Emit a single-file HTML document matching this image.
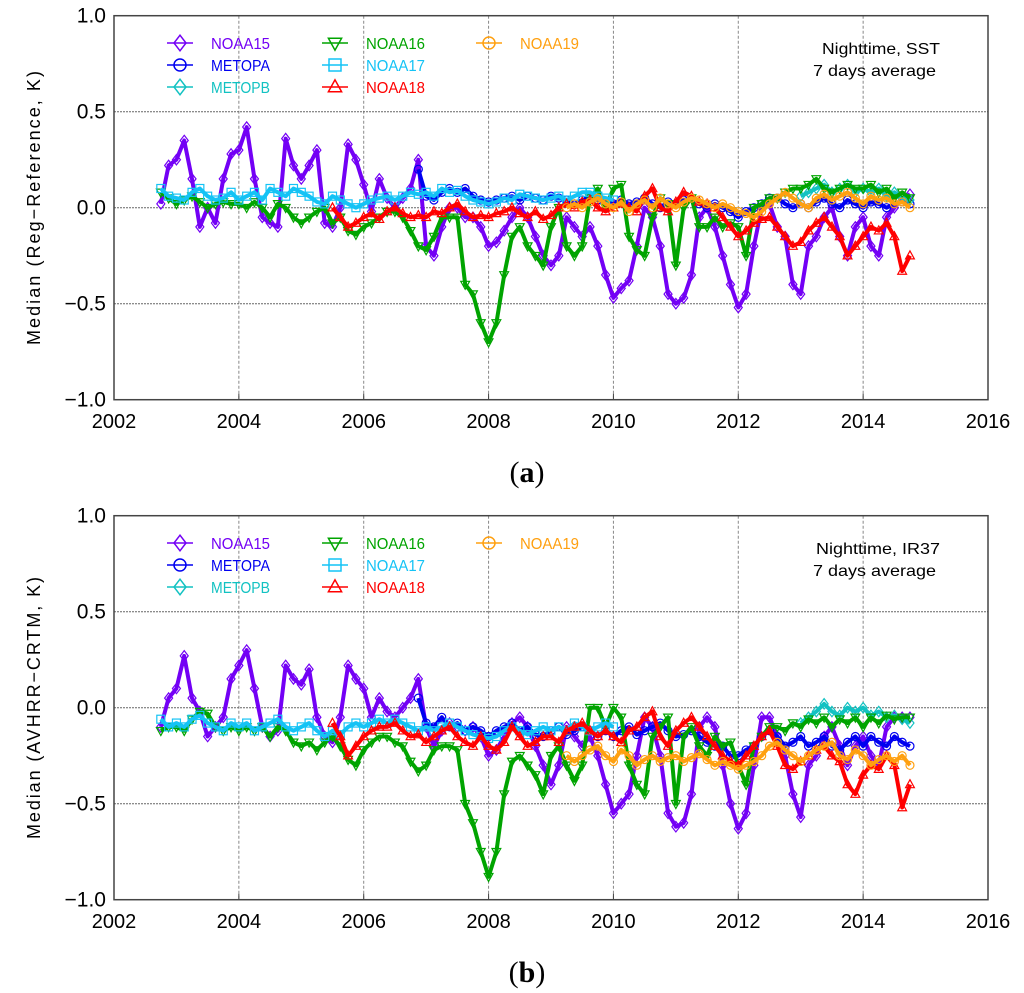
<!DOCTYPE html>
<html><head><meta charset="utf-8"><style>
html,body{margin:0;padding:0;background:#fff;}
svg{display:block;font-family:"Liberation Sans",sans-serif;}
</style></head><body>
<svg id="fig" width="1024" height="993" viewBox="0 0 1024 993" xmlns="http://www.w3.org/2000/svg"></svg>
<script>
// ---- shared axis data ----
const xTicks = [2002, 2004, 2006, 2008, 2010, 2012, 2014, 2016];
const yTicks = [1.0, 0.5, 0.0, -0.5, -1.0];
const yTickLabels = ["1.0", "0.5", "0.0", "\u22120.5", "\u22121.0"];
const seriesNames = ["NOAA15","METOPA","METOPB","NOAA16","NOAA17","NOAA18","NOAA19"];

// ---- panel (a) data: 8 samples per year, start years ----
const aStart = {NOAA15:2002.75, NOAA16:2002.75, NOAA17:2002.75, METOPA:2006.875, METOPB:2013.0, NOAA18:2005.5, NOAA19:2009.25};
const aNOAA15 = [0.02,0.22,
 0.25,0.35,0.15,-0.1,0.0,-0.08,0.15,0.28,
 0.3,0.42,0.15,-0.05,-0.08,-0.1,0.36,0.22,
 0.15,0.22,0.3,-0.08,-0.1,0.0,0.33,0.25,
 0.12,-0.02,0.15,0.05,0.0,0.05,0.1,0.25,
 -0.2,-0.25,-0.1,0.0,0.0,-0.05,-0.05,-0.1,
 -0.2,-0.18,-0.12,-0.05,0.0,-0.05,-0.15,-0.25,
 -0.3,-0.25,-0.05,-0.1,-0.15,-0.1,-0.2,-0.35,
 -0.47,-0.42,-0.38,-0.2,0.0,-0.05,-0.2,-0.45,
 -0.5,-0.47,-0.35,-0.05,0.0,-0.1,-0.25,-0.4,
 -0.52,-0.45,-0.2,0.0,0.02,-0.1,-0.15,-0.4,
 -0.45,-0.2,-0.15,-0.05,0.0,-0.15,-0.25,-0.1,
 -0.05,-0.2,-0.25,-0.05,0.0,0.05,0.07];
const aNOAA16 = [0.08,0.05,
 0.02,0.04,0.06,0.03,0.0,0.02,0.03,0.02,
 0.02,0.0,0.03,0.0,-0.05,0.02,0.0,-0.05,
 -0.08,-0.05,-0.02,0.0,-0.08,-0.05,-0.12,-0.14,
 -0.1,-0.08,-0.05,-0.02,-0.02,-0.05,-0.12,-0.2,
 -0.22,-0.15,-0.05,-0.05,-0.05,-0.4,-0.45,-0.6,
 -0.7,-0.6,-0.35,-0.15,-0.1,-0.2,-0.25,-0.3,
 -0.1,0.0,-0.2,-0.25,-0.2,0.05,0.1,0.0,
 0.1,0.12,-0.15,-0.22,-0.25,-0.05,0.05,0.02,
 -0.3,0.0,0.05,-0.1,-0.1,-0.05,-0.1,-0.08,
 -0.1,-0.25,0.0,0.02,0.05,0.05,0.08,0.1,
 0.1,0.12,0.15,0.1,0.08,0.1,0.12,0.1,
 0.1,0.12,0.08,0.1,0.05,0.08,0.05];
const aNOAA17 = [0.1,0.06,
 0.05,0.04,0.08,0.1,0.06,0.04,0.05,0.08,
 0.04,0.06,0.08,0.04,0.1,0.08,0.06,0.1,
 0.08,0.06,0.03,0.02,0.06,0.04,0.02,0.0,
 0.02,0.04,0.05,0.06,0.04,0.06,0.08,0.07,
 0.08,0.06,0.1,0.08,0.09,0.06,0.04,0.03,
 0.02,0.03,0.05,0.04,0.07,0.06,0.05,0.04,
 0.05,0.06,0.04,0.06,0.08,0.08,0.06,0.05,
 0.04];
const aMETOPA = [0.2,
 0.06,0.04,0.08,0.1,0.08,0.1,0.06,0.04,
 0.03,0.04,0.05,0.06,0.04,0.06,0.05,0.04,
 0.06,0.05,0.04,0.02,0.04,0.05,0.04,0.03,
 0.02,0.04,0.02,0.03,0.05,0.02,0.0,0.03,
 0.02,0.04,0.05,0.02,0.0,0.02,0.0,-0.02,
 -0.05,-0.02,0.0,0.02,0.05,0.05,0.02,0.0,
 0.02,0.0,0.03,0.05,0.02,0.0,0.04,0.02,
 0.0,0.03,0.02,0.0,0.02,0.03,0.02];
const aMETOPB = [0.06,0.08,0.1,0.12,0.08,0.1,0.12,0.08, 0.1,0.08,0.1,0.06,0.08,0.05,0.04];
const aNOAA18 = [0.0,-0.05,-0.1,-0.08,
 -0.05,-0.03,-0.06,-0.02,0.0,-0.03,-0.05,-0.04,
 -0.05,-0.02,-0.03,0.0,0.02,-0.02,-0.05,-0.04,
 -0.05,-0.03,-0.02,0.0,-0.03,-0.05,-0.02,-0.06,
 -0.04,0.0,0.02,0.0,0.03,0.04,0.0,-0.02,
 0.0,0.02,0.0,-0.02,0.06,0.1,0.0,-0.02,
 0.03,0.08,0.06,0.03,0.02,0.0,-0.05,-0.1,
 -0.15,-0.12,-0.08,-0.06,-0.05,-0.1,-0.15,-0.2,
 -0.18,-0.12,-0.08,-0.05,-0.1,-0.15,-0.25,-0.2,
 -0.15,-0.1,-0.12,-0.08,-0.15,-0.33,-0.25];
const aNOAA19 = [0.0,0.02,0.0,0.03,0.05,0.02,
 0.0,0.03,-0.02,0.02,0.04,0.0,0.05,0.02,
 0.0,0.03,0.05,0.04,0.02,0.0,0.02,0.0,
 -0.02,-0.03,-0.05,-0.02,0.02,0.05,0.08,0.05,
 0.02,0.0,0.05,0.07,0.04,0.06,0.08,0.05,
 0.02,0.06,0.04,0.05,0.02,0.03,0.0];

// ---- panel (b) data ----
const bStart = {NOAA15:2002.75, NOAA16:2002.75, NOAA17:2002.75, METOPA:2006.875, METOPB:2013.0, NOAA18:2005.5, NOAA19:2009.25};
const bNOAA15 = [-0.1,0.05,
 0.1,0.27,0.05,-0.02,-0.15,-0.1,-0.05,0.15,
 0.22,0.3,0.1,-0.1,-0.15,-0.12,0.22,0.15,
 0.12,0.2,-0.05,-0.15,-0.18,-0.05,0.22,0.15,
 0.1,-0.05,0.05,-0.02,-0.05,0.0,0.05,0.15,
 -0.1,-0.2,-0.12,-0.08,-0.1,-0.12,-0.1,-0.15,
 -0.25,-0.22,-0.15,-0.08,-0.05,-0.1,-0.2,-0.3,
 -0.4,-0.3,-0.1,-0.15,-0.2,-0.15,-0.25,-0.4,
 -0.55,-0.5,-0.45,-0.25,-0.05,-0.1,-0.25,-0.55,
 -0.62,-0.6,-0.45,-0.1,-0.05,-0.1,-0.3,-0.5,
 -0.63,-0.55,-0.3,-0.05,-0.05,-0.15,-0.25,-0.45,
 -0.57,-0.3,-0.25,-0.15,-0.1,-0.2,-0.3,-0.2,
 -0.15,-0.25,-0.3,-0.1,-0.05,-0.05,-0.05];
const bNOAA16 = [-0.12,-0.1,
 -0.1,-0.12,-0.06,-0.02,-0.03,-0.1,-0.12,-0.1,
 -0.12,-0.1,-0.12,-0.1,-0.15,-0.1,-0.12,-0.18,
 -0.2,-0.18,-0.22,-0.18,-0.15,-0.2,-0.27,-0.3,
 -0.22,-0.18,-0.15,-0.15,-0.18,-0.2,-0.28,-0.33,
 -0.3,-0.22,-0.2,-0.2,-0.22,-0.5,-0.6,-0.75,
 -0.88,-0.75,-0.45,-0.28,-0.25,-0.3,-0.35,-0.45,
 -0.25,-0.2,-0.3,-0.38,-0.3,0.0,0.0,-0.1,
 0.0,-0.05,-0.3,-0.4,-0.45,-0.15,-0.1,-0.05,
 -0.5,-0.15,-0.1,-0.2,-0.25,-0.15,-0.2,-0.18,
 -0.3,-0.4,-0.2,-0.15,-0.1,-0.1,-0.12,-0.08,
 -0.1,-0.06,-0.08,-0.05,-0.1,-0.06,-0.08,-0.05,
 -0.1,-0.05,-0.08,-0.04,-0.06,-0.05,-0.05];
const bNOAA17 = [-0.06,-0.1,
 -0.08,-0.1,-0.06,-0.04,-0.08,-0.1,-0.12,-0.08,
 -0.1,-0.08,-0.12,-0.1,-0.08,-0.06,-0.1,-0.12,
 -0.1,-0.08,-0.12,-0.15,-0.12,-0.14,-0.1,-0.08,
 -0.1,-0.08,-0.06,-0.08,-0.06,-0.08,-0.1,-0.12,
 -0.1,-0.12,-0.1,-0.08,-0.1,-0.12,-0.14,-0.15,
 -0.16,-0.15,-0.12,-0.1,-0.12,-0.14,-0.12,-0.1,
 -0.12,-0.1,-0.12,-0.08,-0.1,-0.12,-0.1,-0.08,
 -0.1];
const bMETOPA = [0.05,
 -0.08,-0.1,-0.05,-0.1,-0.08,-0.12,-0.1,-0.12,
 -0.15,-0.12,-0.1,-0.08,-0.12,-0.1,-0.14,-0.15,
 -0.12,-0.1,-0.14,-0.12,-0.1,-0.12,-0.15,-0.12,
 -0.15,-0.12,-0.1,-0.14,-0.12,-0.1,-0.08,-0.12,
 -0.15,-0.14,-0.12,-0.15,-0.18,-0.2,-0.2,-0.25,
 -0.25,-0.22,-0.2,-0.15,-0.12,-0.15,-0.2,-0.18,
 -0.15,-0.2,-0.18,-0.15,-0.2,-0.22,-0.18,-0.15,
 -0.2,-0.15,-0.18,-0.2,-0.15,-0.18,-0.2];
const bMETOPB = [-0.08,-0.05,-0.02,0.02,-0.02,-0.04,0.0,-0.02, 0.0,-0.04,-0.02,-0.05,-0.04,-0.06,-0.08];
const bNOAA18 = [-0.08,-0.15,-0.25,-0.2,
 -0.15,-0.12,-0.1,-0.1,-0.08,-0.12,-0.15,-0.14,
 -0.18,-0.15,-0.12,-0.1,-0.15,-0.18,-0.2,-0.15,
 -0.2,-0.22,-0.18,-0.1,-0.15,-0.2,-0.18,-0.15,
 -0.15,-0.18,-0.12,-0.1,-0.08,-0.12,-0.15,-0.12,
 -0.15,-0.18,-0.12,-0.1,-0.05,-0.02,-0.15,-0.2,
 -0.12,-0.08,-0.05,-0.1,-0.15,-0.2,-0.25,-0.28,
 -0.3,-0.25,-0.2,-0.15,-0.12,-0.2,-0.3,-0.32,
 -0.28,-0.25,-0.22,-0.2,-0.25,-0.28,-0.4,-0.45,
 -0.35,-0.3,-0.32,-0.25,-0.3,-0.52,-0.4];
const bNOAA19 = [-0.25,-0.28,-0.25,-0.22,-0.2,-0.25,
 -0.28,-0.22,-0.25,-0.3,-0.27,-0.25,-0.28,-0.26,
 -0.25,-0.28,-0.26,-0.24,-0.27,-0.3,-0.28,-0.3,
 -0.32,-0.3,-0.28,-0.25,-0.2,-0.18,-0.22,-0.25,
 -0.28,-0.25,-0.22,-0.2,-0.18,-0.25,-0.27,-0.22,
 -0.25,-0.3,-0.27,-0.25,-0.28,-0.25,-0.3];

const colors = {NOAA15:"#7300f5", METOPA:"#0000f0", METOPB:"#12c2c2", NOAA16:"#00a400", NOAA17:"#14c3f5", NOAA18:"#ff0000", NOAA19:"#ffa010"};
const markers = {NOAA15:"diamond", METOPA:"circle", METOPB:"diamond", NOAA16:"tridown", NOAA17:"square", NOAA18:"triup", NOAA19:"circle"};

const NS = "http://www.w3.org/2000/svg";
const svg = document.getElementById("fig");
function mk(tag, attrs, parent) {
  const e = document.createElementNS(NS, tag);
  for (const k in attrs) e.setAttribute(k, attrs[k]);
  (parent || svg).appendChild(e);
  return e;
}
const X0 = 114, X1 = 988;
function xScale(yr) { return X0 + (yr - 2002) / 14 * (X1 - X0); }
function makeY(off) { return v => off + 207.7 - v * 192; }

function markerShape(kind, cx, cy, s, col, g) {
  let el;
  if (kind === "diamond") el = mk("polygon", {points:`${cx},${cy-s*1.3} ${cx+s},${cy} ${cx},${cy+s*1.3} ${cx-s},${cy}`}, g);
  else if (kind === "circle") el = mk("circle", {cx:cx, cy:cy, r:s}, g);
  else if (kind === "square") el = mk("rect", {x:cx-s, y:cy-s, width:2*s, height:2*s}, g);
  else if (kind === "triup") el = mk("polygon", {points:`${cx},${cy-s*1.2} ${cx+s*1.1},${cy+s*0.8} ${cx-s*1.1},${cy+s*0.8}`}, g);
  else el = mk("polygon", {points:`${cx},${cy+s*1.2} ${cx+s*1.1},${cy-s*0.8} ${cx-s*1.1},${cy-s*0.8}`}, g);
  el.setAttribute("fill", "none");
  el.setAttribute("stroke", col);
  el.setAttribute("stroke-width", "1.2");
  return el;
}

function drawPanel(off, tag, data, starts, yTitle, note) {
  const yS = makeY(off);
  const pg = mk("g", {});
  
  
  xTicks.slice(1, -1).forEach(t => {
    const l = mk("line", {x1:xScale(t), x2:xScale(t), y1:yS(1), y2:yS(-1), stroke:"#888", "stroke-width":1, "stroke-dasharray":"3,2"}, pg);
    
    
  });
  [0.5, 0, -0.5].forEach(t => {
    const l = mk("line", {x1:X0, x2:X1, y1:yS(t), y2:yS(t), stroke:"#666", "stroke-width":1, "stroke-dasharray":"2,1"}, pg);
    
    
  });
  const order = ["NOAA15","METOPA","METOPB","NOAA16","NOAA17","NOAA18","NOAA19"];
  order.forEach(name => {
    const vals = data[name];
    const st = starts[name];
    const col = colors[name];
    const sg = mk("g", {}, pg);
    
    
    const pts = vals.map((v, i) => [xScale(st + i * 0.125), yS(v)]);
    const line = mk("polyline", {points: pts.map(p => p[0].toFixed(1) + "," + p[1].toFixed(1)).join(" "), fill:"none", stroke:col, "stroke-width":4, "stroke-linejoin":"round"}, sg);
    
    
    pts.forEach(p => {
      const m = markerShape(markers[name], p[0], p[1], 4, col, sg);
      
      
    });
  });
  const box = mk("rect", {x:X0, y:yS(1), width:X1 - X0, height:yS(-1) - yS(1), fill:"none", stroke:"#444", "stroke-width":1.5}, pg);
  
  
  xTicks.forEach(t => {
    const tl = mk("text", {x:xScale(t), y:off + 428, "text-anchor":"middle", "font-size":20, fill:"#000"}, pg);
    tl.textContent = t;
    
    
    mk("line", {x1:xScale(t), x2:xScale(t), y1:yS(-1), y2:yS(-1) - 6, stroke:"#444"}, pg);
  });
  yTicks.forEach((t, i) => {
    const tl = mk("text", {x:106, y:yS(t) + 7, "text-anchor":"end", "font-size":21, fill:"#000"}, pg);
    tl.textContent = yTickLabels[i];
    
    
  });
  const yt = mk("text", {transform:`translate(40,${off + 208}) rotate(-90)`, "text-anchor":"middle", "font-size":18, fill:"#000", textLength:(tag === "a" ? 274 : 262), lengthAdjust:"spacing"}, pg);
  yt.textContent = yTitle;
  
  
  const lg = mk("g", {}, pg);
  
  
  const legendPos = {NOAA15:[180,43], METOPA:[180,65], METOPB:[180,87], NOAA16:[335,43], NOAA17:[335,65], NOAA18:[335,87], NOAA19:[489,43]};
  seriesNames.forEach(name => {
    const [cx, cy0] = legendPos[name];
    const cy = cy0 + off;
    const eg = mk("g", {}, lg);
    
    
    mk("line", {x1:cx - 13, x2:cx + 13, y1:cy, y2:cy, stroke:colors[name], "stroke-width":1.5}, eg);
    markerShape(markers[name], cx, cy, 6, colors[name], eg).setAttribute("stroke-width", "1.5");
    const t = mk("text", {x:cx + 31, y:cy + 6, "font-size":16, fill:colors[name], textLength:59, lengthAdjust:"spacingAndGlyphs"}, eg);
    t.textContent = name;
  });
  const n1 = mk("text", {x:940, y:off + 54, "text-anchor":"end", "font-size":16, fill:"#000", textLength:(tag === "a" ? 118 : 124), lengthAdjust:"spacingAndGlyphs"}, pg);
  n1.textContent = note;
  
  
  const n2 = mk("text", {x:936, y:off + 76, "text-anchor":"end", "font-size":16, fill:"#000", textLength:123, lengthAdjust:"spacingAndGlyphs"}, pg);
  n2.textContent = "7 days average";
  
  
  const cap = mk("text", {x:527, y:off + 482, "text-anchor":"middle", "font-size":30, "font-family":"Liberation Serif, serif", fill:"#000"}, pg);
  cap.innerHTML = '(<tspan font-weight="bold">' + tag + '</tspan>)';
  
  
}

drawPanel(0, "a", {NOAA15:aNOAA15, METOPA:aMETOPA, METOPB:aMETOPB, NOAA16:aNOAA16, NOAA17:aNOAA17, NOAA18:aNOAA18, NOAA19:aNOAA19}, aStart, "Median  (Reg\u2212Reference, K)", "Nighttime, SST");
drawPanel(500, "b", {NOAA15:bNOAA15, METOPA:bMETOPA, METOPB:bMETOPB, NOAA16:bNOAA16, NOAA17:bNOAA17, NOAA18:bNOAA18, NOAA19:bNOAA19}, bStart, "Median  (AVHRR\u2212CRTM, K)", "Nighttime, IR37");
</script>
</body></html>
